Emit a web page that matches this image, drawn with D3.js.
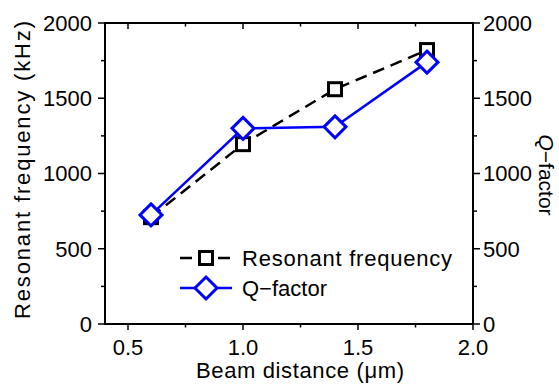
<!DOCTYPE html>
<html>
<head>
<meta charset="utf-8">
<script src="https://cdn.jsdelivr.net/npm/d3@7"></script>
<style>
  body { margin: 0; background: #fff; }
  text { font-family: "Liberation Sans", Arial, sans-serif; fill: #000; }
</style>
</head>
<body>
<div id="vis"></div>
<script>
// data
const distance = [0.6, 1.0, 1.4, 1.8];
const resonantFreq = [710, 1195, 1560, 1820];
const qFactor = [725, 1300, 1310, 1740];
const xTicks = [0.5, 1.0, 1.5, 2.0];
const yTicks = [0, 500, 1000, 1500, 2000];

const W = 559, H = 385;
let margin = { top: 23, left: 105, right: 86, bottom: 61 },
  width = W - margin.left - margin.right,
  height = H - margin.top - margin.bottom;

let svg = d3.select('#vis')
  .append('svg')
  .attr('width', W)
  .attr('height', H);

let g = svg.append('g')
  .attr('transform', `translate(${margin.left},${margin.top})`);

let x = d3.scaleLinear().domain([0.4, 2.0]).range([0, width]);
let y = d3.scaleLinear().domain([0, 2000]).range([height, 0]);
let y2 = d3.scaleLinear().domain([0, 2000]).range([height, 0]);

const fs = 22;

// frame
g.append('rect')
  .attr('width', width).attr('height', height)
  .attr('fill', 'none').attr('stroke', '#000').attr('stroke-width', 2);

// x ticks every 0.25, labels on the half values
const xMinor = d3.range(0.5, 2.01, 0.25);
xMinor.forEach(v => {
  let major = Math.abs(v * 2 - Math.round(v * 2)) < 1e-6;
  let len = major ? 6 : 3.5;
  g.append('line') // bottom, outward
    .attr('x1', x(v)).attr('x2', x(v))
    .attr('y1', height).attr('y2', height + len)
    .attr('stroke', '#000').attr('stroke-width', 1.5);
  g.append('line') // top, pointing down
    .attr('x1', x(v)).attr('x2', x(v))
    .attr('y1', 0).attr('y2', len)
    .attr('stroke', '#000').attr('stroke-width', 1.5);
});
g.selectAll('.xlab').data(xTicks).enter().append('text')
  .attr('x', d => x(d)).attr('y', height + 31)
  .attr('text-anchor', 'middle')
  .style('font-size', fs + 'px')
  .text(d => d.toFixed(1));

// y ticks every 250, outward on both sides
const yMinor = d3.range(0, 2001, 250);
yMinor.forEach(v => {
  let len = v % 500 === 0 ? 7 : 4;
  g.append('line')
    .attr('x1', -len).attr('x2', 0)
    .attr('y1', y(v)).attr('y2', y(v))
    .attr('stroke', '#000').attr('stroke-width', 1.5);
  g.append('line')
    .attr('x1', width).attr('x2', width + len)
    .attr('y1', y2(v)).attr('y2', y2(v))
    .attr('stroke', '#000').attr('stroke-width', 1.5);
});
g.selectAll('.ylab').data(yTicks).enter().append('text')
  .attr('x', -13).attr('y', d => y(d))
  .attr('dy', '0.36em')
  .attr('text-anchor', 'end')
  .style('font-size', fs + 'px')
  .text(d => d);
g.selectAll('.y2lab').data(yTicks).enter().append('text')
  .attr('x', width + 10).attr('y', d => y2(d))
  .attr('dy', '0.36em')
  .attr('text-anchor', 'start')
  .style('font-size', fs + 'px')
  .text(d => d);

// axis titles
svg.append('text')
  .attr('x', 300).attr('y', 378)
  .attr('text-anchor', 'middle')
  .attr('textLength', 208).attr('lengthAdjust', 'spacing')
  .style('font-size', fs + 'px')
  .text('Beam distance (\u03bcm)');

svg.append('text')
  .attr('transform', 'translate(30,170) rotate(-90)')
  .attr('text-anchor', 'middle')
  .attr('textLength', 298).attr('lengthAdjust', 'spacing')
  .style('font-size', fs + 'px')
  .text('Resonant frequency (kHz)');

let qt = svg.append('text')
  .attr('transform', 'translate(539,175) rotate(90)')
  .attr('text-anchor', 'middle')
  .style('font-size', '21px');
qt.append('tspan').style('font-style', 'italic').text('Q');
qt.append('tspan').text('\u2212factor');

// lines
let line1 = d3.line().x((d, i) => x(distance[i])).y(d => y(d));
let line2 = d3.line().x((d, i) => x(distance[i])).y(d => y2(d));

g.append('path').datum(resonantFreq)
  .attr('d', line1)
  .attr('fill', 'none').attr('stroke', '#000')
  .attr('stroke-width', 2.5).attr('stroke-dasharray', '12,7');

g.selectAll('.sq').data(resonantFreq).enter().append('rect')
  .attr('x', (d, i) => x(distance[i]) - 6.5)
  .attr('y', d => y(d) - 6.5)
  .attr('width', 13).attr('height', 13)
  .attr('fill', '#fff').attr('stroke', '#000').attr('stroke-width', 3);

g.append('path').datum(qFactor)
  .attr('d', line2)
  .attr('fill', 'none').attr('stroke', '#0000ff')
  .attr('stroke-width', 2.5);

const diamond = (cx, cy, r) => `M${cx},${cy - r}L${cx + r},${cy}L${cx},${cy + r}L${cx - r},${cy}Z`;
g.selectAll('.dm').data(qFactor).enter().append('path')
  .attr('d', (d, i) => diamond(x(distance[i]), y2(d), 11))
  .attr('fill', '#fff').attr('stroke', '#0000ff').attr('stroke-width', 3);

// legend
let lg = svg.append('g');
lg.append('line')
  .attr('x1', 180).attr('x2', 232).attr('y1', 258).attr('y2', 258)
  .attr('stroke', '#000').attr('stroke-width', 2.5).attr('stroke-dasharray', '12,7');
lg.append('rect')
  .attr('x', 206 - 6.5).attr('y', 258 - 6.5).attr('width', 13).attr('height', 13)
  .attr('fill', '#fff').attr('stroke', '#000').attr('stroke-width', 3);
lg.append('text')
  .attr('x', 242).attr('y', 258).attr('dy', '0.36em')
  .attr('textLength', 210).attr('lengthAdjust', 'spacing')
  .style('font-size', fs + 'px')
  .text('Resonant frequency');

lg.append('line')
  .attr('x1', 180).attr('x2', 232).attr('y1', 288).attr('y2', 288)
  .attr('stroke', '#0000ff').attr('stroke-width', 2.5);
lg.append('path')
  .attr('d', diamond(206, 288, 11))
  .attr('fill', '#fff').attr('stroke', '#0000ff').attr('stroke-width', 3);
lg.append('text')
  .attr('x', 242).attr('y', 288).attr('dy', '0.36em')
  .style('font-size', fs + 'px')
  .text('Q\u2212factor');
</script>
</body>
</html>
